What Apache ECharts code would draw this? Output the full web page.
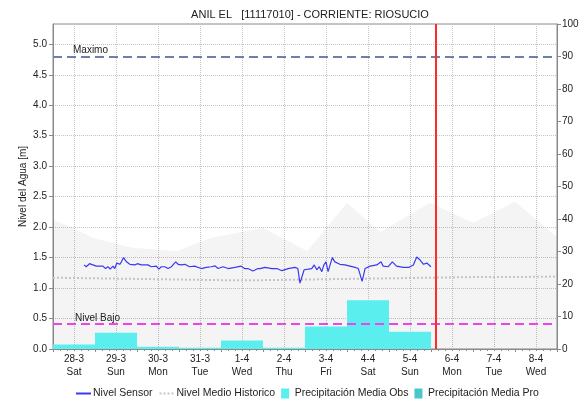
<!DOCTYPE html>
<html>
<head>
<meta charset="utf-8">
<script src="https://cdn.jsdelivr.net/npm/echarts@6/dist/echarts.min.js"></script>
<style>
  html, body { margin: 0; padding: 0; background: #fff; }
  #chart { width: 585px; height: 404px; }
</style>
</head>
<body>
<div id="chart"></div>
<script>
  // dias del eje
  var dias = ['28-3\nSat', '29-3\nSun', '30-3\nMon', '31-3\nTue', '1-4\nWed', '2-4\nThu',
    '3-4\nFri', '4-4\nSat', '5-4\nSun', '6-4\nMon', '7-4\nTue', '8-4\nWed']

  // nivel sensor (t en dias desde 28-3 00:00)
  var sensorT = [0.74, 0.79, 0.87, 0.95, 1.03, 1.19, 1.25, 1.31, 1.36, 1.43, 1.47, 1.52, 1.59, 1.63, 1.68,
    1.75, 1.83, 1.95, 2.01, 2.10, 2.26, 2.34, 2.46, 2.52, 2.58, 2.66, 2.74, 2.82, 2.92, 2.98, 3.05, 3.14,
    3.25, 3.37, 3.53, 3.65, 3.77, 3.86, 3.93, 4.05, 4.17, 4.33, 4.48, 4.56, 4.64, 4.76, 4.88, 4.93, 5.05,
    5.21, 5.33, 5.45, 5.60, 5.76, 5.83, 5.88, 5.92, 5.98, 6.08, 6.16, 6.22, 6.28, 6.34, 6.40, 6.45, 6.50,
    6.55, 6.65, 6.71, 6.83, 6.95, 7.07, 7.19, 7.27, 7.36, 7.43, 7.55, 7.71, 7.81, 7.86, 7.98, 8.08, 8.18,
    8.34, 8.48, 8.58, 8.66, 8.74, 8.82, 8.90, 9.00]
  var sensorNivel = [1.38, 1.35, 1.40, 1.38, 1.36, 1.36, 1.32, 1.35, 1.31, 1.36, 1.32, 1.41, 1.39, 1.43, 1.50,
    1.43, 1.39, 1.38, 1.40, 1.38, 1.38, 1.35, 1.36, 1.31, 1.35, 1.35, 1.32, 1.35, 1.43, 1.39, 1.38, 1.39,
    1.35, 1.36, 1.32, 1.34, 1.35, 1.365, 1.32, 1.35, 1.32, 1.34, 1.36, 1.32, 1.32, 1.28, 1.32, 1.32, 1.34,
    1.32, 1.32, 1.285, 1.32, 1.34, 1.32, 1.08, 1.09, 1.30, 1.31, 1.32, 1.38, 1.30, 1.35, 1.27, 1.38, 1.43,
    1.27, 1.50, 1.43, 1.39, 1.38, 1.36, 1.34, 1.32, 1.11, 1.32, 1.36, 1.38, 1.43, 1.36, 1.35, 1.43, 1.36,
    1.34, 1.34, 1.38, 1.51, 1.46, 1.39, 1.41, 1.35]

  // nivel medio historico
  var historicoT = [0, 1, 2, 3, 4, 5, 6, 7, 8, 9, 10, 11, 12]
  var historicoNivel = [1.17, 1.16, 1.15, 1.14, 1.13, 1.13, 1.14, 1.15, 1.16, 1.17, 1.18, 1.18, 1.19]

  // banda gris (maximo historico)
  var bandaT = [0, 0.48, 0.95, 1.9, 2.95, 3.74, 5.0, 6.05, 7.0, 7.79, 8.98, 10.0, 11.0, 12.0]
  var bandaNivel = [2.12, 1.99, 1.82, 1.66, 1.61, 1.82, 1.99, 1.61, 2.40, 1.92, 2.40, 2.07, 2.42, 1.84]

  // precipitacion [mm]
  var precObs = [1.4, 5.0, 0.7, 0.4, 2.6, 0.4, 6.9, 15.0, 5.3, null, null, null]
  var precPro = [null, null, null, null, null, null, null, null, null, 0, 0, 0]

  var nivelMaximo = 4.8
  var nivelBajo = 0.41
  var ahora = 9.12

  function pares (t, v) {
    return t.map(function (x, i) { return [x, v[i]] })
  }

  var fuente = '"Liberation Sans", Arial, sans-serif'
  var myChart = echarts.init(document.getElementById('chart'))
  myChart.setOption({
    animation: false,
    backgroundColor: '#fff',
    textStyle: { fontFamily: fuente },
    title: {
      text: 'ANIL EL   [11117010] - CORRIENTE: RIOSUCIO',
      left: 305,
      textAlign: 'center',
      top: 4,
      textStyle: { fontSize: 11, fontWeight: 'normal', color: '#222', fontFamily: fuente }
    },
    legend: {
      bottom: 0,
      left: 70,
      itemWidth: 15,
      itemHeight: 10,
      itemGap: 6,
      textStyle: { fontSize: 10.5, color: '#222', padding: [0, 0, 0, -3] },
      data: [
        { name: 'Nivel Sensor', itemStyle: { opacity: 0 } },
        { name: 'Nivel Medio Historico', itemStyle: { opacity: 0 } },
        { name: 'Precipitación Media Obs', icon: 'path://M0,0H8V10H0Z' },
        { name: 'Precipitación Media Pro', icon: 'path://M0,0H8V10H0Z' }
      ]
    },
    grid: {
      left: 53,
      right: 28,
      top: 24,
      bottom: 55,
      outerBoundsMode: 'none',
      containLabel: false,
      show: true,
      borderColor: '#8a8a8a',
      borderWidth: 1
    },
    xAxis: [
      {
        type: 'category',
        data: dias,
        boundaryGap: true,
        axisLine: { lineStyle: { color: '#8a8a8a' } },
        axisTick: { show: false },
        axisLabel: { color: '#222', fontSize: 10, lineHeight: 13, margin: 4, interval: 0 },
        splitLine: { show: true, alignWithLabel: true, lineStyle: { color: '#c4c4c4', type: 'dotted' } }
      },
      {
        type: 'value',
        min: 0,
        max: 12,
        interval: 1,
        position: 'bottom',
        axisLine: { show: false },
        axisLabel: { show: false },
        axisTick: { show: true, length: 3, lineStyle: { color: '#8a8a8a' } },
        minorTick: { show: true, splitNumber: 6, length: 2, lineStyle: { color: '#8a8a8a' } },
        splitLine: { show: false }
      }
    ],
    yAxis: [
      {
        type: 'value',
        min: 0,
        max: 5.333,
        interval: 0.5,
        name: 'Nivel del Agua [m]',
        nameLocation: 'middle',
        nameGap: 25,
        nameMoveOverlap: false,
        nameTextStyle: { fontSize: 10, color: '#222' },
        axisLine: { show: true, lineStyle: { color: '#8a8a8a' } },
        axisTick: { show: true, length: 4, lineStyle: { color: '#8a8a8a' } },
        axisLabel: {
          color: '#222', fontSize: 10, margin: 6, showMaxLabel: false,
          formatter: function (v) { return v.toFixed(1) }
        },
        splitLine: { show: true, lineStyle: { color: '#c4c4c4', type: 'dotted' } }
      },
      {
        type: 'value',
        min: 0,
        max: 100,
        interval: 10,
        position: 'right',
        name: 'Precipitación [mm]',
        nameLocation: 'middle',
        nameRotate: 90,
        nameGap: 31,
        nameMoveOverlap: false,
        nameTextStyle: { fontSize: 10, color: '#222' },
        axisLine: { show: true, lineStyle: { color: '#8a8a8a' } },
        axisTick: { show: true, length: 4, lineStyle: { color: '#8a8a8a' } },
        axisLabel: { color: '#222', fontSize: 10, margin: 5 },
        splitLine: { show: false }
      }
    ],
    series: [
      {
        name: 'banda',
        type: 'line',
        xAxisIndex: 1,
        yAxisIndex: 0,
        data: pares(bandaT, bandaNivel),
        symbol: 'none',
        silent: true,
        lineStyle: { width: 0 },
        areaStyle: { color: 'rgba(0,0,0,0.06)' },
        z: 1
      },
      {
        name: 'Precipitación Media Obs',
        type: 'bar',
        xAxisIndex: 0,
        yAxisIndex: 1,
        data: precObs,
        barWidth: '100%',
        barGap: '-100%',
        itemStyle: { color: '#5aeeee' },
        z: 2
      },
      {
        name: 'Precipitación Media Pro',
        type: 'bar',
        xAxisIndex: 0,
        yAxisIndex: 1,
        data: precPro,
        barWidth: '100%',
        barGap: '-100%',
        itemStyle: { color: '#48c8c8' },
        z: 2
      },
      {
        name: 'Nivel Medio Historico',
        type: 'line',
        xAxisIndex: 1,
        yAxisIndex: 0,
        data: pares(historicoT, historicoNivel),
        symbol: 'none',
        lineStyle: { color: '#c4c4c4', width: 2, type: 'dotted' },
        itemStyle: { color: '#c4c4c4' },
        z: 3
      },
      {
        name: 'Nivel Sensor',
        type: 'line',
        xAxisIndex: 1,
        yAxisIndex: 0,
        data: pares(sensorT, sensorNivel),
        symbol: 'none',
        lineStyle: { color: '#3a3af0', width: 1.2 },
        itemStyle: { color: '#3a3af0' },
        z: 4,
        markLine: {
          silent: true,
          symbol: 'none',
          animation: false,
          data: [
            {
              yAxis: nivelMaximo,
              lineStyle: { color: '#6f7fab', width: 2, type: [9, 5] },
              label: { show: true, formatter: 'Maximo', position: 'insideStartTop', distance: [20, 1], color: '#222', fontSize: 10 }
            },
            {
              yAxis: nivelBajo,
              lineStyle: { color: '#ee44ee', width: 2, type: [9, 5] },
              label: { show: true, formatter: 'Nivel Bajo', position: 'insideStartTop', distance: [22, 1], color: '#222', fontSize: 10 }
            },
            {
              xAxis: ahora,
              lineStyle: { color: '#ff2a2a', width: 2, type: 'solid' },
              label: { show: false }
            }
          ]
        }
      }
    ]
  })
</script>
</body>
</html>
